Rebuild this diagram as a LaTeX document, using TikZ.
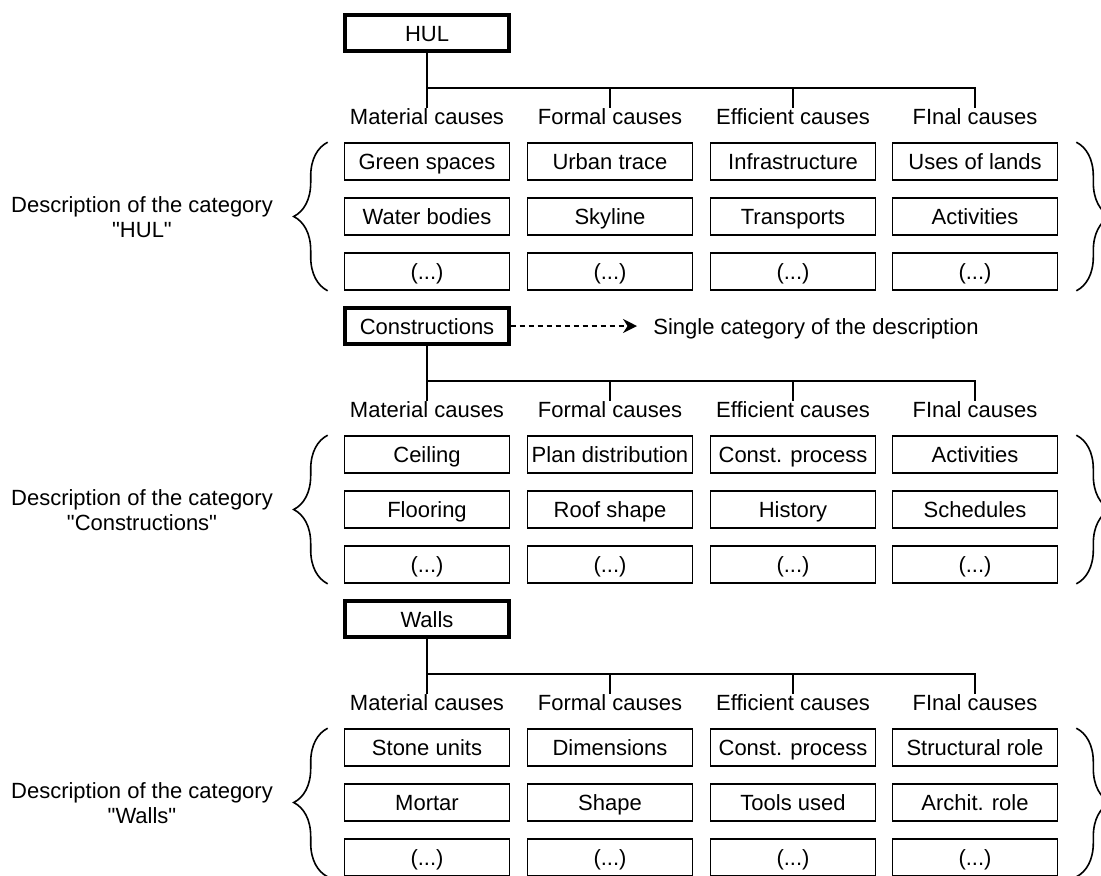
\documentclass[tikz,border=0pt]{standalone}
\usepackage{fontspec}
\setmainfont{Liberation Sans}
\usetikzlibrary{arrows.meta,decorations.pathreplacing}

\tikzset{
  catbox/.style={draw, line width=1.7pt, minimum width=82pt, minimum height=18pt, inner sep=0pt, text height=8pt, text depth=0pt},
  itembox/.style={draw, line width=0.8pt, minimum width=82.5pt, minimum height=18.5pt, inner sep=0pt, text height=8pt, text depth=0pt},
  causelabel/.style={inner sep=0pt, text height=8pt, text depth=0pt},
  desc/.style={align=center, inner sep=0pt},
  brace/.style={decorate, decoration={brace, amplitude=17pt}, line width=0.8pt},
  link/.style={line width=0.8pt},
}

\begin{document}
\begin{tikzpicture}[x=0.5pt, y=-0.5pt, font=\fontsize{11}{12.5}\selectfont]
    \useasboundingbox (0,0) rectangle (1101,875);

    % HUL
    \node[catbox] (hul) at (427,33) {HUL};
    \coordinate (bar1) at (427,88);
    \foreach \x/\n/\c/\a/\b in {427/mat/Material/Green spaces/Water bodies, 610/for/Formal/Urban trace/Skyline, 793/eff/Efficient/Infrastructure/Transports, 975/fin/FInal/Uses of lands/Activities} {
        \node[causelabel] (\n1) at (\x,116.5) {\c\ causes};
        \node[itembox] (\n1r1) at (\x,161.5) {\a};
        \node[itembox] (\n1r2) at (\x,216.5) {\b};
        \node[itembox] (\n1r3) at (\x,271.5) {(...)};
    }
    \draw[link] (hul.south) -- (mat1.north); % HUL down to material causes
    \draw[link] (bar1) -| (fin1.north);
    \draw[link] (for1.north |- bar1) -- (for1.north);
    \draw[link] (eff1.north |- bar1) -- (eff1.north);
    \draw[brace] ([xshift=-8pt]mat1r3.south west) -- ([xshift=-8pt]mat1r1.north west);
    \draw[brace] ([xshift=9pt]fin1r1.north east) -- ([xshift=9pt]fin1r3.south east);
    \node[desc] (desc1) at (142,217) {Description of the category\\\textquotedbl HUL\textquotedbl};

    % Constructions
    \node[catbox] (cons) at (427,326) {Constructions};
    \node[anchor=west, inner sep=4pt, text height=8pt, text depth=0pt] (single) at (645,326) {Single category of the description};
    \draw[link, dash pattern=on 2.5pt off 2pt, -{Stealth[length=7pt, width=7pt]}, shorten >=4pt] (cons.east) -- (single.west); % dashed pointer to the note
    \coordinate (bar2) at (427,381);
    \foreach \x/\n/\c/\a/\b in {427/mat/Material/Ceiling/Flooring, 610/for/Formal/Plan distribution/Roof shape, 793/eff/Efficient/Const. process/History, 975/fin/FInal/Activities/Schedules} {
        \node[causelabel] (\n2) at (\x,409.5) {\c\ causes};
        \node[itembox] (\n2r1) at (\x,454.5) {\a};
        \node[itembox] (\n2r2) at (\x,509.5) {\b};
        \node[itembox] (\n2r3) at (\x,564.5) {(...)};
    }
    \draw[link] (cons.south) -- (mat2.north); % Constructions down to material causes
    \draw[link] (bar2) -| (fin2.north);
    \draw[link] (for2.north |- bar2) -- (for2.north);
    \draw[link] (eff2.north |- bar2) -- (eff2.north);
    \draw[brace] ([xshift=-8pt]mat2r3.south west) -- ([xshift=-8pt]mat2r1.north west);
    \draw[brace] ([xshift=9pt]fin2r1.north east) -- ([xshift=9pt]fin2r3.south east);
    \node[desc] (desc2) at (142,510) {Description of the category\\\textquotedbl Constructions\textquotedbl};

    % Walls
    \node[catbox] (walls) at (427,619) {Walls};
    \coordinate (bar3) at (427,674);
    \foreach \x/\n/\c/\a/\b in {427/mat/Material/Stone units/Mortar, 610/for/Formal/Dimensions/Shape, 793/eff/Efficient/Const. process/Tools used, 975/fin/FInal/Structural role/Archit. role} {
        \node[causelabel] (\n3) at (\x,702.5) {\c\ causes};
        \node[itembox] (\n3r1) at (\x,747.5) {\a};
        \node[itembox] (\n3r2) at (\x,802.5) {\b};
        \node[itembox] (\n3r3) at (\x,857.5) {(...)};
    }
    \draw[link] (walls.south) -- (mat3.north); % Walls down to material causes
    \draw[link] (bar3) -| (fin3.north);
    \draw[link] (for3.north |- bar3) -- (for3.north);
    \draw[link] (eff3.north |- bar3) -- (eff3.north);
    \draw[brace] ([xshift=-8pt]mat3r3.south west) -- ([xshift=-8pt]mat3r1.north west);
    \draw[brace] ([xshift=9pt]fin3r1.north east) -- ([xshift=9pt]fin3r3.south east);
    \node[desc] (desc3) at (142,803) {Description of the category\\\textquotedbl Walls\textquotedbl};
\end{tikzpicture}
\end{document}
